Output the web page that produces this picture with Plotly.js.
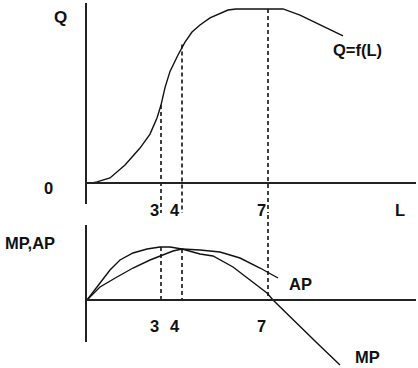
<!DOCTYPE html>
<html>
<head>
<meta charset="utf-8">
<script src="https://cdn.plot.ly/plotly-3.0.1.min.js"></script>
<style>html,body{margin:0;padding:0;background:#fff;}#chart{width:418px;height:368px;}</style>
</head>
<body>
<div id="chart"></div>
<script>
// Total product curve Q = f(L) (schematic units)
const qL = [0.24, 0.44, 0.96, 1.56, 2.16, 2.56, 2.84, 3.0, 3.16, 3.36, 3.68, 3.96, 4.24, 4.56, 4.96, 5.68, 6.0, 7.88, 8.56, 9.36, 10.28];
const qV = [0.0, 0.06, 0.28, 1.0, 1.94, 2.72, 3.61, 4.33, 5.3, 6.2, 7.11, 7.83, 8.39, 8.78, 9.17, 9.61, 9.67, 9.67, 9.33, 8.78, 8.17];
// Marginal product
const mpL = [0.04, 0.56, 0.96, 1.36, 1.88, 2.44, 2.96, 3.36, 3.84, 4.56, 5.08, 5.88, 6.68, 7.24, 7.48, 8.28, 9.24, 10.16];
const mpV = [0.0, 1.7, 3.0, 4.0, 4.7, 5.1, 5.3, 5.3, 5.1, 4.6, 4.4, 3.3, 1.8, 0.7, 0.0, -2.0, -4.3, -6.5];
// Average product
const apL = [0.04, 0.56, 1.24, 1.88, 2.56, 3.08, 3.48, 3.84, 4.56, 5.36, 6.16, 6.96, 7.68];
const apV = [0.0, 1.3, 2.3, 3.2, 4.0, 4.5, 4.9, 5.1, 5.0, 4.8, 4.2, 3.2, 2.2];
// Reference L positions and their labels
const markL = [3.0, 3.84, 7.28];
const markLabels = ['3', '4', '7'];
const markQTop = [4.33, 7.7, 9.67];   // top of dashed line in top panel
const markVTop = [5.3, 5.1, 8.5];     // top of dashed line in bottom panel
const qDashBottom = -1.67;
const qAxisMax = 10, qAxisMin = -1.1667, lAxisMax = 13.2;
const vAxisMax = 7.5, vAxisMin = -4.2;

const curve = {color: '#111', width: 1.4};
const dash = {color: '#111', width: 1.6, dash: '4px,3px'};
const traces = [];
traces.push({x: qL, y: qV, xaxis: 'x', yaxis: 'y', mode: 'lines', line: curve, hoverinfo: 'skip'});
traces.push({x: mpL, y: mpV, xaxis: 'x', yaxis: 'y2', mode: 'lines', line: curve, hoverinfo: 'skip'});
traces.push({x: apL, y: apV, xaxis: 'x', yaxis: 'y2', mode: 'lines', line: curve, hoverinfo: 'skip'});
markL.forEach((l, i) => {
  traces.push({x: [l, l], y: [markQTop[i], qDashBottom], xaxis: 'x', yaxis: 'y', mode: 'lines', line: dash, hoverinfo: 'skip'});
  traces.push({x: [l, l], y: [markVTop[i], 0], xaxis: 'x', yaxis: 'y2', mode: 'lines', line: dash, hoverinfo: 'skip'});
});

const axisLine = {color: '#222', width: 2};
const shapes = [
  {type: 'line', xref: 'x', yref: 'y', x0: 0, x1: 0, y0: qAxisMin, y1: qAxisMax, line: axisLine},
  {type: 'line', xref: 'x', yref: 'y', x0: 0, x1: lAxisMax, y0: 0, y1: 0, line: axisLine},
  {type: 'line', xref: 'x', yref: 'y2', x0: 0, x1: 0, y0: vAxisMin, y1: vAxisMax, line: axisLine},
  {type: 'line', xref: 'x', yref: 'y2', x0: 0, x1: lAxisMax, y0: 0, y1: 0, line: axisLine}
];

const font = {family: 'Liberation Sans, Arial, sans-serif', size: 16.5, color: '#111'};
function px(x, y, text, extra) {
  return Object.assign({xref: 'paper', yref: 'paper', x: x / 418, y: 1 - y / 368, text: '<b>' + text + '</b>',
    showarrow: false, xanchor: 'center', yanchor: 'middle', font: font}, extra || {});
}
const annotations = [
  px(60, 17, 'Q', {font: Object.assign({}, font, {size: 17})}),
  px(48, 188, '0'),
  px(400, 210, 'L'),
  px(357, 50, 'Q=f(L)'),
  px(30, 243, 'MP,AP'),
  px(300, 284, 'AP'),
  px(367, 357, 'MP')
];
markL.forEach((l, i) => {
  annotations.push({xref: 'x', yref: 'y', x: l, y: -1.5, xshift: -7, text: '<b>' + markLabels[i] + '</b>', showarrow: false, font: font, xanchor: 'center', yanchor: 'middle'});
  annotations.push({xref: 'x', yref: 'y2', x: l, y: -2.6, xshift: -7, text: '<b>' + markLabels[i] + '</b>', showarrow: false, font: font, xanchor: 'center', yanchor: 'middle'});
});

const layout = {
  width: 418, height: 368,
  margin: {l: 0, r: 0, t: 0, b: 0},
  paper_bgcolor: '#fff', plot_bgcolor: '#fff',
  showlegend: false,
  xaxis: {range: [-3.44, 13.28], visible: false, fixedrange: true},
  yaxis: {range: [-10.278, 10.1667], visible: false, fixedrange: true},
  yaxis2: {range: [-6.8, 30], visible: false, overlaying: 'y', fixedrange: true},
  shapes: shapes,
  annotations: annotations
};
Plotly.newPlot('chart', traces, layout, {staticPlot: true, displayModeBar: false});
</script>
</body>
</html>
